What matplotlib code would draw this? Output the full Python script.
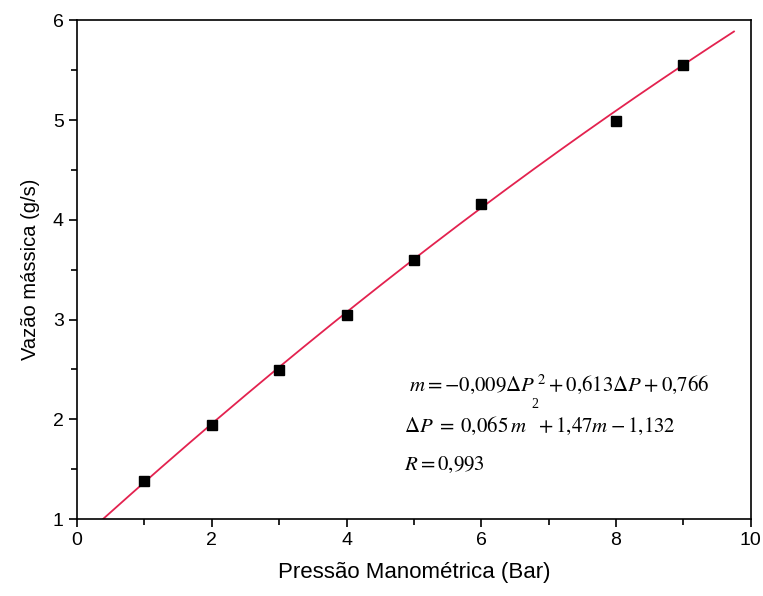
import numpy as np
import matplotlib.pyplot as plt
from matplotlib.ticker import MultipleLocator

plt.rcParams['font.family'] = ['Liberation Sans', 'DejaVu Sans']
plt.rcParams['mathtext.fontset'] = 'stix'

# measured points
pressao = [1, 2, 3, 4, 5, 6, 8, 9]
vazao = [1.38, 1.94, 2.49, 3.05, 3.60, 4.16, 4.99, 5.55]

# quadratic fit shown on the chart (a*dP^2 + b*dP + c)
coef_fit = [-0.009, 0.613, 0.766]
fit_range = [0.39, 9.75]

fig = plt.figure(figsize=(7.63, 5.96), dpi=100)
ax = fig.add_axes([0.101, 0.129, 0.883, 0.837])

xf = np.linspace(fit_range[0], fit_range[1], 200)
ax.plot(xf, np.polyval(coef_fit, xf), color='#e3224f', linewidth=1.3)
ax.plot(pressao, vazao, 's', color='black', markersize=7)

ax.set_xlim(0, 10)
ax.set_ylim(1, 6)
ax.xaxis.set_major_locator(MultipleLocator(2))
ax.xaxis.set_minor_locator(MultipleLocator(1))
ax.yaxis.set_major_locator(MultipleLocator(1))
ax.yaxis.set_minor_locator(MultipleLocator(0.5))
ax.tick_params(which='major', direction='out', length=6, width=1.2, labelsize=14)
ax.tick_params(which='minor', direction='out', length=4, width=1.2)
for s in ax.spines.values():
    s.set_linewidth(1.2)

ax.set_xlabel('Pressão Manométrica (Bar)', fontsize=16, labelpad=9)
ax.set_ylabel('Vazão mássica (g/s)', fontsize=14.5, labelpad=9)

# fit equations
ax.text(4.92, 2.29, r'$m = -0{,}009\Delta P^{\,2} + 0{,}613\Delta P + 0{,}766$', fontsize=15)
ax.text(4.86, 1.87, r'$\Delta P\;=\;0{,}065\,m\ \ + 1{,}47m - 1{,}132$', fontsize=15)
ax.text(6.74, 2.11, '2', fontsize=10, family='Liberation Serif')
ax.text(4.86, 1.49, r'$R = 0{,}993$', fontsize=15)

fig.savefig('out.png', dpi=100)
